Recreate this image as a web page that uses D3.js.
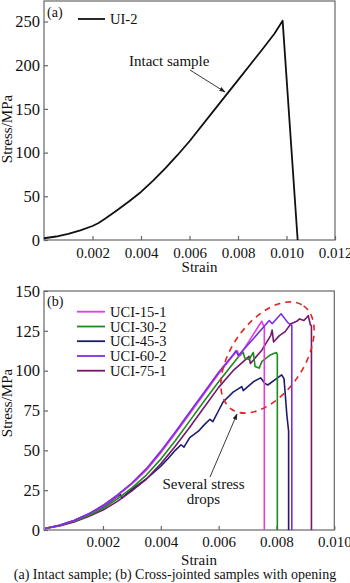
<!DOCTYPE html>
<html>
<head>
<meta charset="utf-8">
<script src="https://cdn.jsdelivr.net/npm/d3@7"></script>
<style>
  html, body { margin: 0; padding: 0; background: #fff; }
  svg text { font-family: "Liberation Serif", "Times New Roman", serif; fill: #111; }
</style>
</head>
<body>
<svg id="fig" width="350" height="583"></svg>
<script>
// ---- Panel (a): intact sample UI-2 ----
const strainUI2 = [0, 0.0005, 0.001, 0.0015, 0.002, 0.00225, 0.0025, 0.00275, 0.003, 0.0035, 0.004, 0.0045, 0.005, 0.0055, 0.006, 0.007, 0.008, 0.009, 0.0095, 0.00984, 0.01046];
const stressUI2 = [2, 4, 7, 11, 16, 19.5, 24, 28.8, 33.8, 44, 55, 68, 82, 97, 113, 148, 183, 218, 236, 251, 0];

const ticksAX = [0.002, 0.004, 0.006, 0.008, 0.010, 0.012];
const ticksAY = [0, 50, 100, 150, 200, 250];

// ---- Panel (b): cross-jointed samples ----
const seriesNames = ["UCI-15-1", "UCI-30-2", "UCI-45-3", "UCI-60-2", "UCI-75-1"];
const seriesColors = ["#e03ee0", "#1e8a1e", "#1c1c6e", "#7a2ee0", "#74176f"];

const strainUCI15 = [0, 0.0005, 0.001, 0.0015, 0.002, 0.0025, 0.003, 0.0035, 0.004, 0.0045, 0.005, 0.0055, 0.006, 0.0065, 0.00665, 0.0067, 0.0068, 0.00749, 0.00758, 0.00758];
const stressUCI15 = [1, 3, 6, 10, 15, 21.5, 29, 37.5, 48.5, 60.5, 73, 85.5, 98, 109.5, 112.5, 109, 111.5, 131, 127, 0];

const strainUCI30 = [0, 0.0005, 0.001, 0.0015, 0.002, 0.0025, 0.003, 0.0035, 0.004, 0.0045, 0.005, 0.0055, 0.006, 0.0065, 0.0067, 0.00685, 0.0069, 0.00705, 0.0072, 0.00726, 0.0074, 0.0075, 0.0078, 0.0080, 0.00803, 0.00803];
const stressUCI30 = [1, 2.8, 5.5, 9, 13.5, 19.5, 26.5, 34.5, 44.5, 56, 68.5, 81, 93, 104.5, 109, 111.5, 108, 107, 111.4, 102.6, 101.6, 105.8, 110, 111.4, 110, 0];

const strainUCI45 = [0, 0.0005, 0.001, 0.0015, 0.002, 0.0025, 0.0026, 0.00265, 0.003, 0.0035, 0.004, 0.00426, 0.0045, 0.0047, 0.0048, 0.005, 0.0053, 0.0055, 0.0057, 0.0058, 0.006, 0.00616, 0.0065, 0.0068, 0.00685, 0.0072, 0.00745, 0.0076, 0.0077, 0.008, 0.00818, 0.00826, 0.0083, 0.00836, 0.00842, 0.00842];
const stressUCI45 = [1, 3, 6, 10, 14.5, 21, 22.5, 20, 25.5, 32, 40, 45, 50, 53.5, 52, 58, 62, 66, 69.5, 68, 75, 80.5, 86.5, 90, 87.5, 93, 95.5, 92, 91, 95, 97.4, 95, 86, 72, 62, 0];

const strainUCI60 = [0, 0.0005, 0.001, 0.0015, 0.002, 0.0025, 0.003, 0.0035, 0.004, 0.0045, 0.005, 0.0055, 0.006, 0.0065, 0.0066, 0.00668, 0.0072, 0.00775, 0.00785, 0.00816, 0.0084, 0.00853, 0.00853];
const stressUCI60 = [1, 3, 6, 10, 15.5, 22, 29.5, 38.5, 49.5, 61.5, 74, 86.5, 99, 110, 112.5, 109.5, 120, 131.5, 129.5, 135.7, 130, 128.5, 0];

const strainUCI75 = [0, 0.0005, 0.001, 0.0015, 0.002, 0.0025, 0.003, 0.0035, 0.004, 0.0045, 0.005, 0.0055, 0.006, 0.0065, 0.0069, 0.00705, 0.0071, 0.0075, 0.0078, 0.00785, 0.0079, 0.0081, 0.0083, 0.0085, 0.0087, 0.0088, 0.00895, 0.0091, 0.00917, 0.00921, 0.00921];
const stressUCI75 = [1, 2.6, 5, 8.5, 12.5, 18, 24.5, 32, 41.5, 52.5, 64.5, 77, 89.5, 100, 106.5, 109, 104.5, 113, 122, 125.5, 118, 122, 124.5, 129.5, 131, 132.5, 131.5, 134.5, 129, 128, 0];

const ticksBX = [0.002, 0.004, 0.006, 0.008, 0.010];
const ticksBY = [0, 25, 50, 75, 100, 125, 150];

const svg = d3.select("#fig");
svg.append("rect").attr("width", 350).attr("height", 583).attr("fill", "#fff");

const defs = svg.append("defs");
defs.append("marker")
  .attr("id", "arrowhead").attr("viewBox", "0 0 10 10")
  .attr("refX", 9).attr("refY", 5)
  .attr("markerWidth", 7).attr("markerHeight", 7)
  .attr("orient", "auto-start-reverse")
  .append("path").attr("d", "M0,1.5 L10,5 L0,8.5 Z").attr("fill", "#222");

const frameColor = "#666";

function drawFrame(g, x0, y0, x1, y1) {
  g.append("rect")
    .attr("x", x0).attr("y", y0)
    .attr("width", x1 - x0).attr("height", y1 - y0)
    .attr("fill", "none").attr("stroke", frameColor).attr("stroke-width", 1.2);
}

function styleAxis(sel, size) {
  sel.select(".domain").remove();
  sel.selectAll(".tick line").attr("stroke", frameColor).attr("stroke-width", 1.2);
  sel.selectAll(".tick text")
    .style("font-family", '"Liberation Serif", serif')
    .style("font-size", size + "px").attr("fill", "#111");
}

// ================= Panel (a) =================
const xA = d3.scaleLinear().domain([0, 0.012]).range([44, 335]);
const yA = d3.scaleLinear().domain([0, 273.5]).range([240, 1]);
const gA = svg.append("g");

drawFrame(gA, 44, 1, 335, 240);

gA.append("g").attr("transform", "translate(0,240)")
  .call(d3.axisBottom(xA).tickValues(ticksAX).tickFormat(d3.format(".3f")).tickSize(-4).tickPadding(7.5))
  .call(s => styleAxis(s, 15));
gA.append("g").attr("transform", "translate(44,0)")
  .call(d3.axisLeft(yA).tickValues(ticksAY).tickFormat(d3.format("d")).tickSize(-4).tickPadding(4))
  .call(s => styleAxis(s, 16.5));

const ptsA = strainUI2.map((s, i) => [s, stressUI2[i]]);
gA.append("path").datum(ptsA)
  .attr("d", d3.line().x(d => xA(d[0])).y(d => yA(d[1])))
  .attr("fill", "none").attr("stroke", "#111").attr("stroke-width", 1.8)
  .attr("stroke-linejoin", "round");

gA.append("text").attr("x", 47).attr("y", 16.5).style("font-size", "14px").text("(a)");
gA.append("line").attr("x1", 78).attr("x2", 105).attr("y1", 19).attr("y2", 19)
  .attr("stroke", "#111").attr("stroke-width", 1.8);
gA.append("text").attr("x", 110).attr("y", 24).style("font-size", "14.5px").text("UI-2");

gA.append("text").attr("x", 129).attr("y", 66).style("font-size", "15px").text("Intact sample");
gA.append("line").attr("x1", 190).attr("y1", 70).attr("x2", 225).attr("y2", 92)
  .attr("stroke", "#222").attr("stroke-width", 0.9).attr("marker-end", "url(#arrowhead)");

gA.append("text").attr("x", 199.5).attr("y", 272).attr("text-anchor", "middle")
  .style("font-size", "15px").text("Strain");
gA.append("text").attr("transform", "translate(12,129) rotate(-90)").attr("text-anchor", "middle")
  .style("font-size", "15px").text("Stress/MPa");

// ================= Panel (b) =================
const xB = d3.scaleLinear().domain([-0.00004, 0.010]).range([44, 334.3]);
const yB = d3.scaleLinear().domain([0, 150]).range([530, 291]);
const gB = svg.append("g");

drawFrame(gB, 44, 291, 334.3, 530);

gB.append("g").attr("transform", "translate(0,530)")
  .call(d3.axisBottom(xB).tickValues(ticksBX).tickFormat(d3.format(".3f")).tickSize(-4).tickPadding(6.5))
  .call(s => styleAxis(s, 15));
gB.append("g").attr("transform", "translate(44,0)")
  .call(d3.axisLeft(yB).tickValues(ticksBY).tickFormat(d3.format("d")).tickSize(-4).tickPadding(4))
  .call(s => styleAxis(s, 16.5));

const seriesB = [
  [strainUCI15, stressUCI15],
  [strainUCI30, stressUCI30],
  [strainUCI45, stressUCI45],
  [strainUCI60, stressUCI60],
  [strainUCI75, stressUCI75]
];
const lineB = d3.line().x(d => xB(d[0])).y(d => yB(d[1]));
// draw in an order that keeps the upper curves on top
const drawOrder = [2, 4, 1, 0, 3];
drawOrder.forEach(i => {
  const [sx, sy] = seriesB[i];
  gB.append("path").datum(sx.map((s, j) => [s, sy[j]]))
    .attr("d", lineB)
    .attr("fill", "none").attr("stroke", seriesColors[i]).attr("stroke-width", 1.6)
    .attr("stroke-linejoin", "round");
});

// dashed ellipse marking the stress-drop zone
gB.append("ellipse")
  .attr("transform", "translate(267.5,357.5) rotate(-55)")
  .attr("rx", 63).attr("ry", 36)
  .attr("fill", "none").attr("stroke", "#e02424").attr("stroke-width", 1.6)
  .attr("stroke-dasharray", "6,5");

gB.append("text").attr("x", 47).attr("y", 306).style("font-size", "14px").text("(b)");

const legY = [311.7, 326.5, 341.2, 356, 370.7];
seriesNames.forEach((name, i) => {
  gB.append("line").attr("x1", 77).attr("x2", 105).attr("y1", legY[i]).attr("y2", legY[i])
    .attr("stroke", seriesColors[i]).attr("stroke-width", 1.8);
  gB.append("text").attr("x", 110).attr("y", legY[i] + 5).style("font-size", "14.5px").text(name);
});

gB.append("text").attr("x", 203.5).attr("y", 488.5).attr("text-anchor", "middle")
  .style("font-size", "15px").text("Several stress");
gB.append("text").attr("x", 203.5).attr("y", 504).attr("text-anchor", "middle")
  .style("font-size", "15px").text("drops");
gB.append("line").attr("x1", 210).attr("y1", 477).attr("x2", 237).attr("y2", 414)
  .attr("stroke", "#222").attr("stroke-width", 0.9).attr("marker-end", "url(#arrowhead)");

gB.append("text").attr("x", 199).attr("y", 564.5).attr("text-anchor", "middle")
  .style("font-size", "15px").text("Strain");
gB.append("text").attr("transform", "translate(12,403) rotate(-90)").attr("text-anchor", "middle")
  .style("font-size", "15px").text("Stress/MPa");

svg.append("text").attr("x", 175).attr("y", 578.5).attr("text-anchor", "middle")
  .style("font-size", "14px").text("(a) Intact sample; (b) Cross-jointed samples with opening");
</script>
</body>
</html>
